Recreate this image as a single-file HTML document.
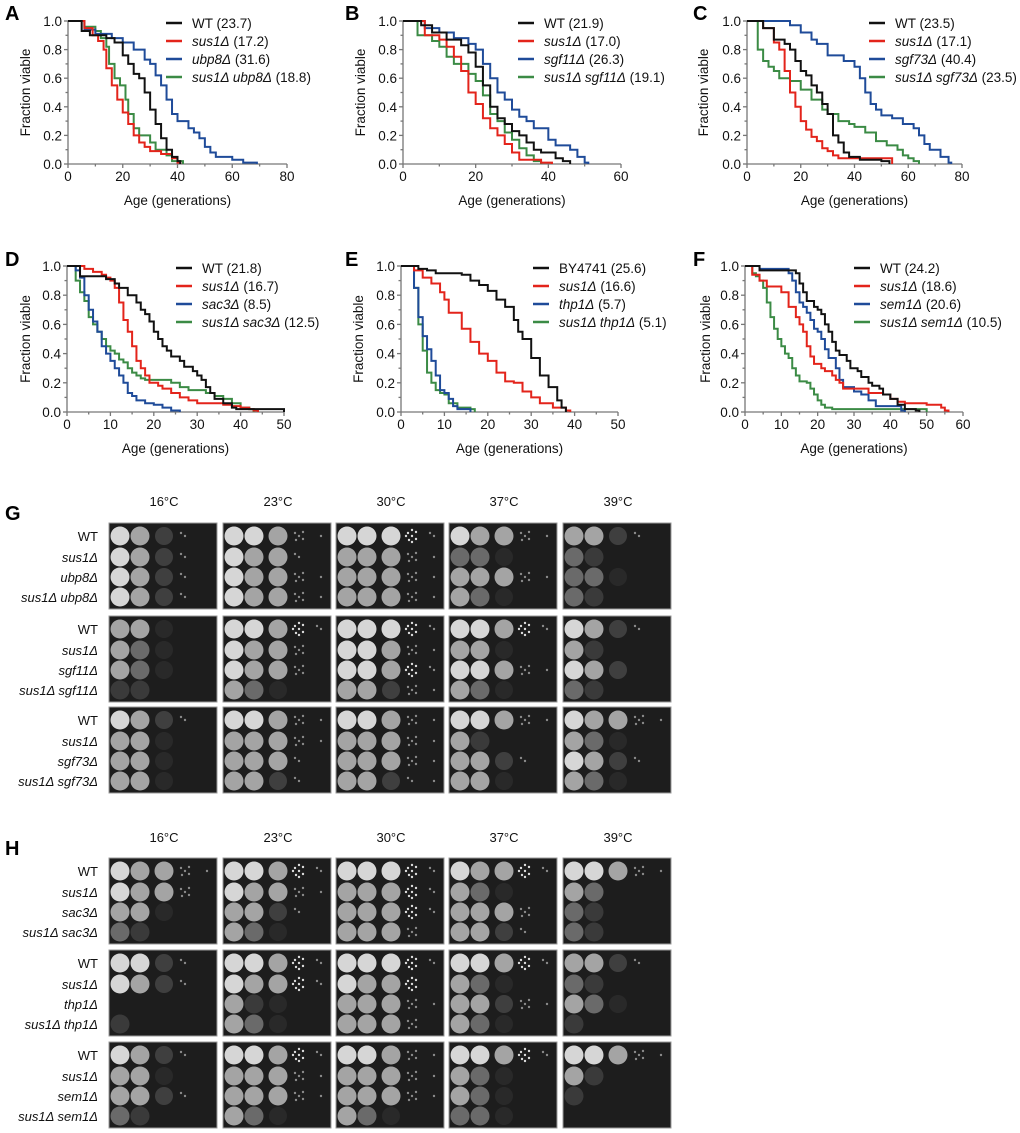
<!DOCTYPE html>
<html><head><meta charset="utf-8"><style>
html,body{margin:0;padding:0;background:#fff;}
svg{display:block;font-family:"Liberation Sans",Arial,sans-serif;}
</style></head><body>
<svg id="fig" width="1020" height="1133" viewBox="0 0 1020 1133" xmlns="http://www.w3.org/2000/svg"></svg>
<script>
// ---------- Survival data (age, fraction viable) ----------
const A_WT=[[0,1],[3,1],[5,.93],[8,.9],[10,.9],[14,.88],[17,.85],[20,.76],[22,.7],[24,.63],[26,.6],[28,.5],[30,.38],[32,.28],[34,.18],[36,.1],[38,.05],[40,.02],[41,0]];
const A_SUS1=[[0,1],[4,1],[6,.95],[9,.9],[11,.86],[13,.8],[14,.67],[16,.55],[18,.45],[20,.36],[22,.28],[24,.2],[26,.15],[28,.12],[30,.09],[34,.07],[38,.04],[40,.01],[41,0]];
const A_MUT=[[0,1],[3,1],[6,.94],[10,.91],[16,.88],[20,.85],[24,.8],[28,.73],[30,.7],[32,.62],[34,.55],[36,.45],[38,.35],[40,.3],[44,.25],[46,.22],[48,.18],[50,.12],[52,.08],[54,.05],[60,.03],[64,.01],[69,0]];
const A_DBL=[[0,1],[4,1],[6,.96],[10,.93],[12,.88],[14,.82],[15,.7],[17,.6],[19,.55],[21,.45],[22,.35],[24,.25],[26,.2],[30,.15],[32,.1],[36,.06],[38,.02],[42,0]];
const B_WT=[[0,1],[2,1],[5,.97],[8,.92],[12,.87],[16,.83],[18,.78],[20,.68],[22,.55],[24,.4],[26,.32],[28,.28],[30,.23],[32,.2],[34,.15],[36,.1],[38,.08],[42,.04],[44,.02],[46,0]];
const B_SUS1=[[0,1],[3,1],[6,.9],[10,.87],[12,.82],[14,.75],[16,.65],[18,.5],[20,.42],[22,.32],[24,.25],[26,.2],[28,.14],[30,.08],[32,.03],[36,.03],[38,.01],[41,0]];
const B_MUT=[[0,1],[2,1],[6,.95],[10,.92],[14,.88],[18,.84],[20,.8],[22,.7],[24,.6],[26,.5],[28,.45],[30,.38],[32,.33],[34,.3],[36,.25],[40,.17],[42,.13],[46,.1],[48,.05],[50,.01],[51,0]];
const B_DBL=[[0,1],[2,1],[4,.9],[8,.86],[10,.82],[12,.75],[14,.7],[18,.63],[20,.58],[22,.48],[24,.35],[26,.3],[28,.22],[30,.17],[32,.11],[34,.06],[36,.02],[38,0]];
const C_WT=[[0,1],[4,1],[6,.95],[10,.87],[14,.84],[16,.8],[18,.72],[20,.65],[22,.62],[24,.55],[26,.5],[28,.42],[30,.35],[32,.2],[34,.15],[36,.08],[38,.05],[42,.03],[50,.02],[53,0]];
const C_SUS1=[[0,1],[2,1],[6,.95],[10,.85],[12,.8],[14,.65],[16,.5],[18,.4],[20,.3],[22,.24],[24,.19],[26,.16],[28,.11],[30,.09],[32,.06],[34,.04],[53,.04],[54,0]];
const C_MUT=[[0,1],[12,1],[16,.97],[20,.92],[24,.87],[26,.84],[30,.76],[36,.72],[40,.68],[42,.6],[44,.5],[46,.42],[48,.38],[50,.34],[54,.32],[58,.28],[62,.25],[64,.2],[66,.14],[68,.1],[72,.05],[75,.01],[76,0]];
const C_DBL=[[0,1],[2,1],[4,.8],[6,.72],[8,.68],[10,.65],[12,.6],[16,.58],[20,.52],[24,.45],[28,.38],[30,.35],[34,.3],[38,.28],[40,.26],[44,.22],[48,.16],[52,.13],[56,.1],[58,.06],[60,.04],[62,.02],[64,0]];
const D_WT=[[0,1],[2,1],[3,.93],[8,.93],[9,.91],[11,.88],[12,.85],[14,.8],[16,.75],[17,.7],[18,.67],[19,.62],[20,.55],[21,.5],[22,.45],[23,.42],[24,.38],[26,.35],[27,.31],[29,.28],[30,.25],[31,.22],[32,.17],[33,.13],[34,.09],[36,.06],[38,.03],[39,.02],[49,.02],[50,0]];
const D_SUS1=[[0,1],[2,1],[4,.98],[6,.96],[8,.94],[9,.92],[10,.9],[11,.85],[12,.75],[13,.63],[14,.55],[15,.45],[16,.35],[17,.3],[18,.25],[19,.2],[21,.18],[22,.16],[24,.13],[26,.1],[28,.08],[30,.06],[36,.05],[38,.04],[40,.03],[42,.02],[43,.01],[44,0]];
const D_MUT=[[0,1],[1,1],[2,.97],[3,.92],[4,.8],[5,.7],[6,.62],[7,.55],[8,.45],[9,.4],[10,.35],[11,.3],[12,.25],[13,.2],[14,.13],[15,.11],[16,.08],[18,.06],[20,.05],[22,.03],[24,.01],[26,0]];
const D_DBL=[[0,1],[1,1],[2,.9],[3,.82],[4,.76],[5,.65],[6,.6],[7,.55],[8,.5],[9,.45],[10,.42],[11,.4],[12,.36],[13,.34],[14,.3],[15,.27],[16,.25],[17,.23],[18,.22],[24,.2],[26,.17],[28,.15],[32,.13],[34,.11],[36,.09],[38,.06],[40,.03],[42,.02],[43,0]];
const E_WT=[[0,1],[2,1],[4,.98],[6,.97],[8,.95],[14,.94],[16,.9],[18,.87],[20,.83],[22,.77],[24,.72],[26,.63],[27,.55],[28,.5],[30,.37],[32,.25],[34,.17],[36,.08],[37,.03],[38,0]];
const E_SUS1=[[0,1],[2,1],[3,.97],[5,.92],[7,.88],[9,.82],[10,.77],[11,.68],[13,.68],[14,.57],[16,.48],[18,.4],[20,.35],[22,.27],[24,.21],[26,.2],[28,.14],[30,.1],[32,.06],[35,.03],[38,.01],[39,0]];
const E_MUT=[[0,1],[2,1],[3,.85],[4,.65],[5,.52],[6,.43],[7,.35],[8,.25],[9,.15],[10,.13],[11,.09],[12,.04],[13,.02],[15,.02],[16,0]];
const E_DBL=[[0,1],[2,1],[3,.85],[4,.6],[5,.42],[6,.27],[7,.2],[8,.15],[9,.13],[10,.12],[11,.06],[13,.03],[16,.02],[17,0]];
const F_WT=[[0,1],[2,1],[4,.97],[13,.97],[14,.95],[15,.88],[16,.82],[17,.76],[19,.72],[20,.7],[21,.67],[22,.6],[23,.55],[24,.48],[25,.42],[26,.39],[28,.35],[29,.3],[31,.28],[32,.24],[34,.2],[35,.18],[37,.16],[38,.12],[40,.09],[42,.05],[44,.02],[47,.01],[48,0]];
const F_SUS1=[[0,1],[1,1],[2,.94],[4,.9],[6,.86],[9,.86],[10,.82],[12,.72],[14,.65],[15,.6],[16,.55],[17,.45],[18,.38],[19,.33],[21,.3],[22,.28],[24,.25],[25,.22],[26,.2],[27,.16],[32,.16],[34,.13],[38,.12],[40,.09],[42,.07],[44,.06],[50,.05],[54,.03],[55,.01],[56,0]];
const F_MUT=[[0,1],[3,1],[4,.98],[11,.98],[12,.95],[13,.9],[14,.82],[15,.75],[16,.72],[17,.68],[18,.63],[19,.57],[20,.55],[21,.5],[22,.43],[23,.37],[24,.37],[25,.3],[26,.22],[27,.17],[30,.14],[32,.12],[34,.08],[36,.04],[42,.04],[43,.01],[44,0]];
const F_DBL=[[0,1],[1,1],[2,.95],[3,.93],[4,.9],[5,.85],[6,.75],[7,.65],[8,.57],[9,.5],[10,.45],[11,.4],[12,.37],[13,.3],[14,.25],[15,.21],[17,.2],[18,.16],[19,.12],[20,.08],[21,.05],[22,.03],[24,.02],[49,.02],[50,0]];

const xTicksA=[0,20,40,60,80], xTicksB=[0,20,40,60], xTicksD=[0,10,20,30,40,50], xTicksF=[0,10,20,30,40,50,60];
const yTicks=[0,0.2,0.4,0.6,0.8,1.0];

// ---------- Spot assay data: brightness level per dilution (0 none .. 4 bright) ----------
const temps=["16°C","23°C","30°C","37°C","39°C"];
const G_strains=[["WT","sus1Δ","ubp8Δ","sus1Δ ubp8Δ"],["WT","sus1Δ","sgf11Δ","sus1Δ sgf11Δ"],["WT","sus1Δ","sgf73Δ","sus1Δ sgf73Δ"]];
const H_strains=[["WT","sus1Δ","sac3Δ","sus1Δ sac3Δ"],["WT","sus1Δ","thp1Δ","sus1Δ thp1Δ"],["WT","sus1Δ","sem1Δ","sus1Δ sem1Δ"]];
const G_spots=[
 [["43210","43210","43210","43210"],["44321","43310","43321","43321"],["44432","33321","33321","33321"],["43321","22100","33321","32100"],["33210","21000","22100","21000"]],
 [["33100","32100","32100","11000"],["44332","43320","43320","32100"],["44432","44321","44332","33221"],["44332","33100","44321","32100"],["43210","31000","43200","21000"]],
 [["43210","33100","33100","33100"],["44321","33321","33310","33210"],["44321","33321","33321","33211"],["44321","31000","33210","33100"],["43321","32100","43210","32100"]]];
const H_spots=[
 [["43321","43320","33100","21000"],["44332","43321","33210","32100"],["44432","33332","33332","33320"],["43332","32100","33320","33210"],["44321","32000","21000","21000"]],
 [["44210","43210","00000","10000"],["44332","43332","31100","32100"],["44432","43330","33321","33320"],["44332","32100","33221","32100"],["33210","21000","32100","10000"]],
 [["43210","33100","33210","21000"],["44332","33321","33321","32100"],["44321","33321","33321","32100"],["44332","32100","32100","22100"],["44321","31000","10000","00000"]]];

const svg=document.getElementById('fig');
const NS="http://www.w3.org/2000/svg";
function el(tag,attrs,parent){const e=document.createElementNS(NS,tag);for(const k in attrs)e.setAttribute(k,attrs[k]);(parent||svg).appendChild(e);return e;}
function txt(s,attrs,parent){const e=el('text',attrs,parent);e.textContent=s;return e;}
const COLORS=["#111111","#e3241b","#1f4b99","#3b8b45"];

const panels=[
 {L:"A",lx:5,ly:0,x0:68,x1:287,xmax:80,ticks:xTicksA,minor:10,yt:21,yb:164,ylab:25,legX:192,series:[A_WT,A_SUS1,A_MUT,A_DBL],names:[["WT",""," (23.7)"],["","sus1Δ"," (17.2)"],["","ubp8Δ"," (31.6)"],["","sus1Δ ubp8Δ"," (18.8)"]]},
 {L:"B",lx:345,ly:0,x0:403,x1:621,xmax:60,ticks:xTicksB,minor:10,yt:21,yb:164,ylab:360,legX:544,series:[B_WT,B_SUS1,B_MUT,B_DBL],names:[["WT",""," (21.9)"],["","sus1Δ"," (17.0)"],["","sgf11Δ"," (26.3)"],["","sus1Δ sgf11Δ"," (19.1)"]]},
 {L:"C",lx:693,ly:0,x0:747,x1:962,xmax:80,ticks:xTicksA,minor:10,yt:21,yb:164,ylab:703,legX:895,series:[C_WT,C_SUS1,C_MUT,C_DBL],names:[["WT",""," (23.5)"],["","sus1Δ"," (17.1)"],["","sgf73Δ"," (40.4)"],["","sus1Δ sgf73Δ"," (23.5)"]]},
 {L:"D",lx:5,ly:246,x0:67,x1:284,xmax:50,ticks:xTicksD,minor:5,yt:266,yb:412,ylab:25,legX:202,series:[D_WT,D_SUS1,D_MUT,D_DBL],names:[["WT",""," (21.8)"],["","sus1Δ"," (16.7)"],["","sac3Δ"," (8.5)"],["","sus1Δ sac3Δ"," (12.5)"]]},
 {L:"E",lx:345,ly:246,x0:401,x1:618,xmax:50,ticks:xTicksD,minor:5,yt:266,yb:412,ylab:358,legX:559,series:[E_WT,E_SUS1,E_MUT,E_DBL],names:[["BY4741",""," (25.6)"],["","sus1Δ"," (16.6)"],["","thp1Δ"," (5.7)"],["","sus1Δ thp1Δ"," (5.1)"]]},
 {L:"F",lx:693,ly:246,x0:745,x1:963,xmax:60,ticks:xTicksF,minor:5,yt:266,yb:412,ylab:705,legX:880,series:[F_WT,F_SUS1,F_MUT,F_DBL],names:[["WT",""," (24.2)"],["","sus1Δ"," (18.6)"],["","sem1Δ"," (20.6)"],["","sus1Δ sem1Δ"," (10.5)"]]}
];

panels.forEach(p=>{
  const g=el('g',{});
  
  
  const sx=v=>p.x0+(p.x1-p.x0)*v/p.xmax;
  const sy=v=>p.yb-(p.yb-p.yt)*v;
  const letter=txt(p.L,{x:p.lx,y:p.ly+20,'font-size':20,'font-weight':'bold',fill:'#000'},g);
  
  
  const ax=el('g',{stroke:'#777','stroke-width':1.3,fill:'none'},g);
  
  
  el('line',{x1:p.x0,y1:p.yt,x2:p.x0,y2:p.yb},ax);
  el('line',{x1:p.x0,y1:p.yb,x2:p.x1,y2:p.yb},ax);
  for(let v=0;v<=p.xmax;v+=p.minor){el('line',{x1:sx(v),y1:p.yb,x2:sx(v),y2:p.yb+(p.ticks.includes(v)?4:2.5)},ax);}
  for(let i=0;i<=10;i++){const v=i/10;el('line',{x1:p.x0,y1:sy(v),x2:p.x0-(i%2===0?4:2.5),y2:sy(v)},ax);}
  p.ticks.forEach(t=>{const e=txt(String(t),{x:sx(t),y:p.yb+17,'font-size':13.5,'text-anchor':'middle',fill:'#111'},g);
    });
  yTicks.forEach(t=>{const e=txt(t.toFixed(1),{x:p.x0-6,y:sy(t)+5,'font-size':13.5,'text-anchor':'end',fill:'#111'},g);
    });
  const xt=txt("Age (generations)",{x:(p.x0+p.x1)/2,y:p.yb+41,'font-size':13.5,'text-anchor':'middle',fill:'#111'},g);
  
  const ym=(p.yt+p.yb)/2;
  const yt=txt("Fraction viable",{x:p.ylab,y:ym,'font-size':13.5,'text-anchor':'middle',fill:'#111',transform:`rotate(-90 ${p.ylab} ${ym}) translate(0 5)`},g);
  
  [3,2,1,0].forEach(i=>{
    const d=p.series[i];let path=`M${sx(d[0][0])},${sy(d[0][1])}`;
    for(let k=1;k<d.length;k++){path+=` H${sx(d[k][0])} V${sy(d[k][1])}`;}
    const c=el('path',{d:path,fill:'none',stroke:COLORS[i],'stroke-width':2,'stroke-linejoin':'miter'},g);
    
    
  });
  p.names.forEach((n,i)=>{
    const ly=p.yt+2+i*18;
    const le=el('g',{},g);
    
    
    el('line',{x1:p.legX-26,y1:ly,x2:p.legX-10,y2:ly,stroke:COLORS[i],'stroke-width':2.5},le);
    const t=el('text',{x:p.legX,y:ly+5,'font-size':13.5,fill:'#111'},le);
    if(n[0]){const s=el('tspan',{},t);s.textContent=n[0];}
    if(n[1]){const s=el('tspan',{'font-style':'italic'},t);s.textContent=n[1];}
    const s2=el('tspan',{},t);s2.textContent=n[2];
  });
});

// ---------- Spot assays ----------
const plateX=[109,223,336,449,563], plateW=108;
const spotFill=["none","#3a3a3a","#6a6a6a","#a4a4a4","#d6d6d6"];
const spotDX=[11,31,55,76,98], rowDY=[13,34,54,74];
// fixed colony scatter offsets (visual texture only)
const colonyOff=[[0,0],[-4,-3],[4,-4],[-3,4],[4,3],[0,-6],[0,6],[-6,0],[6,0],[-5,-6],[5,6],[2,-2]];
const colonyCount=[0,2,5,8,12];
function spotFigure(letter,letterY,tempY,plateTops,strains,spots){
  const g=el('g',{});
  
  
  const L=txt(letter,{x:5,y:letterY,'font-size':20,'font-weight':'bold',fill:'#000'},g);
  
  
  temps.forEach((t,ti)=>{const e=txt(t,{x:plateX[ti]+plateW/2+1,y:tempY,'font-size':13,'text-anchor':'middle',fill:'#111'},g);
    });
  plateTops.forEach((top,gi)=>{
    strains[gi].forEach((s,si)=>{
      const e=txt(s,{x:98,y:top+rowDY[si]+5,'font-size':13,'text-anchor':'end',fill:'#111','font-style':s==="WT"?'normal':'italic'},g);
      
    });
    temps.forEach((t,ti)=>{
      const pg=el('g',{},g);
      
      
      el('rect',{x:plateX[ti],y:top,width:plateW,height:86,fill:'#1d1d1d',stroke:'#9a9a9a','stroke-width':1},pg);
      spots[gi][ti].forEach((row,si)=>{
        for(let k=0;k<5;k++){const lv=+row[k];if(!lv)continue;
          const cx=plateX[ti]+spotDX[k], cy=top+rowDY[si];
          if(k<2 || (k===2 && lv>=3)){
            el('circle',{cx:cx,cy:cy,r:9.5,fill:spotFill[lv]},pg);
          } else if(k===2){
            el('circle',{cx:cx,cy:cy,r:9,fill:spotFill[lv],opacity:0.45},pg);
          } else {
            const n=Math.max(1,colonyCount[lv]-(k-3)*3);
            for(let c=0;c<n;c++){el('circle',{cx:cx+colonyOff[c][0],cy:cy+colonyOff[c][1],r:1.2,fill:lv>=3?'#dcdcdc':'#8a8a8a'},pg);}
          }
        }
      });
    });
  });
}
spotFigure("G",520,506,[523,616,707],G_strains,G_spots);
spotFigure("H",855,842,[858,950,1042],H_strains,H_spots);
</script>
</body></html>
